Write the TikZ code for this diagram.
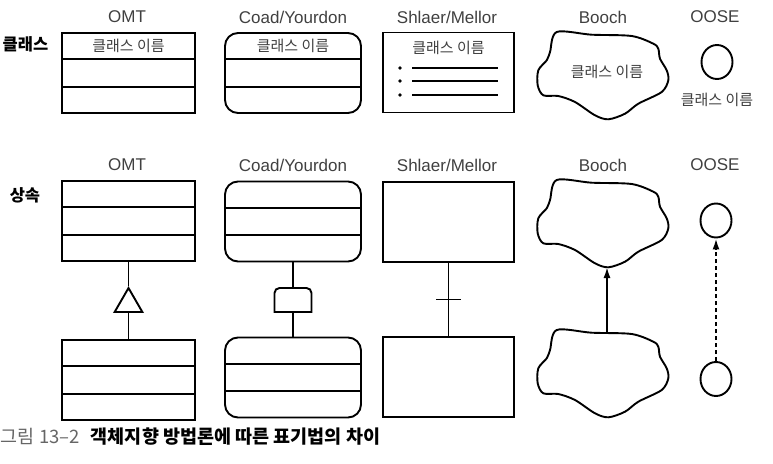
\documentclass[tikz,border=0pt]{standalone}
\usepackage{fontspec}
\setmainfont{Liberation Sans}
\newfontfamily\krfont{Noto Sans CJK KR}
\usetikzlibrary{calc,shapes.geometric,arrows.meta}
\tikzset{every path/.style={black, line width=1.9pt},
  heading/.style={text=black!75, inner sep=0pt, font=\fontsize{17}{20}\selectfont},
  rowlabel/.style={inner sep=0pt, font=\krfont\bfseries\fontsize{16.5}{19}\selectfont},
  clsname/.style={text=black!75, inner sep=0pt, font=\krfont\fontsize{15}{18}\selectfont},
  classbox/.style={draw, inner sep=0pt, minimum height=80pt},
  coadbox/.style={classbox, rounded corners=13pt},
  oosecircle/.style={draw, ellipse, inner sep=0pt, minimum width=31pt, minimum height=34pt},
  gentip/.style={-{Latex[length=11pt,width=7pt]}},
  pics/blob/.style={code={
    \draw plot[smooth cycle, tension=0.5] coordinates {(0,0) (35,2.7) (75,4) (96.6,11.7)
      (101.6,16.7) (103.3,26.7) (110,38.3) (111.6,48.3) (105,60) (81.6,71.7) (68.3,81.7)
      (51.6,87.3) (38.3,83.3) (18.3,70) (1.6,64) (-13.4,63.3) (-19,53.3) (-18.4,38.3)
      (-10,28.3) (-6.7,20)};
    \coordinate (-top) at (50.3,3);
    \coordinate (-bottom) at (50.3,87);
    \coordinate (-mid) at (50.3,40);
  }}}

\begin{document}
\begin{tikzpicture}[x=1pt, y=-1pt]
  \useasboundingbox (0,0) rectangle (773,463);

  % headings
  \foreach \y/\r in {17/c,165/i}
    \foreach \x/\t/\n in {127/OMT/omt, 293/{Coad/Yourdon}/coad, 447/{Shlaer/Mellor}/shl,
                          603/Booch/bo, 715/OOSE/oo}
      \node[heading] (h\n\r) at (\x,\y) {\t};
  \node[rowlabel] (lblClass) at (25.5,44) {클래스};
  \node[rowlabel] (lblInherit) at (25,195) {상속};

  % class notation
  \node[classbox, minimum width=133pt] (omtC) at (128.5,73) {};
  \node[coadbox, minimum width=136pt] (coadC) at (293,73) {};
  \node[classbox, minimum width=131pt] (shlC) at (448.5,72.5) {};
  \node[clsname] (omtName) at ($(omtC.north)!1/6!(omtC.south)$) {클래스 이름};
  \node[clsname] (coadName) at ($(coadC.north)!1/6!(coadC.south)$) {클래스 이름};
  \node[clsname] (shlName) at ($(shlC.north)!0.2!(shlC.south)$) {클래스 이름};
  \foreach \y in {68,81,95} {
    \fill (400,\y) circle[radius=1.8pt];
    \draw (412,\y) -- (498,\y);
  }
  \pic (boC) at (556.7,32) {blob};
  \node[clsname] (boName) at (boC-mid) {클래스 이름};
  \node[oosecircle] (ooC) at (717,62) {};
  \node[clsname] (ooName) at (717,100) {클래스 이름};

  % inheritance notation
  \node[classbox, minimum width=133pt] (omtA) at (128.5,221) {};
  \node[classbox, minimum width=133pt] (omtB) at (128.5,380) {};
  \node[coadbox, minimum width=136pt] (coadA) at (293,221.5) {};
  \node[coadbox, minimum width=136pt] (coadB) at (293,377.5) {};
  \node[classbox, minimum width=131pt] (shlA) at (448.5,222) {};
  \node[classbox, minimum width=131pt] (shlB) at (448.5,377) {};

  \foreach \b in {omtC,coadC,omtA,omtB,coadA,coadB}
    \foreach \f in {1/3,2/3}
      \draw ($(\b.north west)!\f!(\b.south west)$) -- ($(\b.north east)!\f!(\b.south east)$);

  \node[draw, regular polygon, regular polygon sides=3, minimum size=32pt, inner sep=0pt]
    (omtTri) at (128.5,304) {};
  \draw (omtA) -- (omtTri.corner 1);
  \draw (omtTri.side 2) -- (omtB);

  \node[inner sep=0pt, outer sep=0pt, minimum width=37pt, minimum height=24pt] (coadLink) at (293,300) {};
  \draw[rounded corners=5pt, line cap=rect] (coadLink.south west) -- (coadLink.north west)
    -- (coadLink.north east) -- (coadLink.south east);
  \draw[line cap=rect] (coadLink.south west) -- (coadLink.south east);
  \draw (coadA) -- (coadLink);
  \draw (coadLink) -- (coadB);

  \draw (shlA) -- (shlB);
  \draw ($(shlA.south)!0.5!(shlB.north)$) ++(-12.5,0) -- ++(25,0);

  \pic (boA) at (556.7,180) {blob};
  \pic (boB) at (556.7,330) {blob};
  \draw[gentip] (boB-top) -- (boA-bottom);

  \node[oosecircle] (ooA) at (716,220.5) {};
  \node[oosecircle] (ooB) at (716,379) {};
  \draw[gentip, dash pattern=on 4pt off 3pt] (ooB) -- (ooA);

  % caption
  \node[anchor=west, inner sep=0pt, font=\krfont\fontsize{18.5}{22}\selectfont] (caption) at (0,437)
    {\textcolor{black!60}{그림 13–2}\hspace{0.6em}\textbf{객체지향 방법론에 따른 표기법의 차이}};
\end{tikzpicture}
\end{document}
